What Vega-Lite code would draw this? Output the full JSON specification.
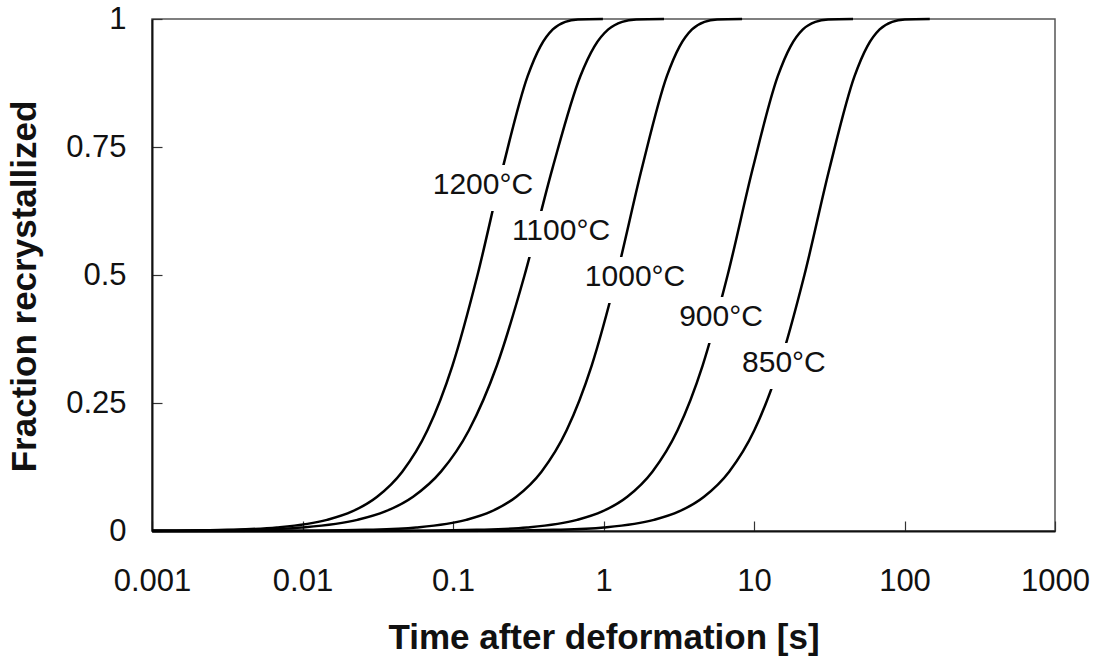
{
  "$schema": "https://vega.github.io/schema/vega-lite/v6.json",
  "width": 903,
  "height": 512,
  "autosize": "none",
  "padding": {"left": 152, "top": 19, "right": 44, "bottom": 126},
  "background": "white",
  "config": {
    "view": {"stroke": "#555", "strokeWidth": 1.5},
    "font": "Liberation Sans",
    "axis": {
      "grid": false,
      "domainColor": "#111",
      "domainWidth": 2,
      "tickColor": "#333",
      "tickWidth": 1.2,
      "tickSize": -10,
      "labelFont": "Liberation Sans",
      "labelFontSize": 31,
      "labelColor": "#111",
      "titleFont": "Liberation Sans",
      "titleFontSize": 35,
      "titleFontWeight": "bold",
      "titleColor": "#111"
    }
  },
  "datasets": {
    "curves": [
      {"temp": "1200", "t": 0.001, "f": 0.0003},
      {"temp": "1200", "t": 0.001455, "f": 0.0007},
      {"temp": "1200", "t": 0.003133, "f": 0.0022},
      {"temp": "1200", "t": 0.006761, "f": 0.0069},
      {"temp": "1200", "t": 0.01455, "f": 0.0217},
      {"temp": "1200", "t": 0.02138, "f": 0.0382},
      {"temp": "1200", "t": 0.03133, "f": 0.067},
      {"temp": "1200", "t": 0.04603, "f": 0.1159},
      {"temp": "1200", "t": 0.06761, "f": 0.1968},
      {"temp": "1200", "t": 0.09908, "f": 0.3227},
      {"temp": "1200", "t": 0.1455, "f": 0.5},
      {"temp": "1200", "t": 0.2138, "f": 0.7084},
      {"temp": "1200", "t": 0.3133, "f": 0.8883},
      {"temp": "1200", "t": 0.3802, "f": 0.9462},
      {"temp": "1200", "t": 0.4603, "f": 0.9797},
      {"temp": "1200", "t": 0.5572, "f": 0.9945},
      {"temp": "1200", "t": 0.6761, "f": 0.999},
      {"temp": "1200", "t": 0.9908, "f": 1.0},

      {"temp": "1100", "t": 0.001, "f": 0.0003},
      {"temp": "1100", "t": 0.001795, "f": 0.0007},
      {"temp": "1100", "t": 0.004207, "f": 0.0022},
      {"temp": "1100", "t": 0.009886, "f": 0.0069},
      {"temp": "1100", "t": 0.02317, "f": 0.0217},
      {"temp": "1100", "t": 0.03548, "f": 0.0382},
      {"temp": "1100", "t": 0.05433, "f": 0.067},
      {"temp": "1100", "t": 0.08318, "f": 0.1159},
      {"temp": "1100", "t": 0.1276, "f": 0.1968},
      {"temp": "1100", "t": 0.1954, "f": 0.3227},
      {"temp": "1100", "t": 0.2992, "f": 0.5},
      {"temp": "1100", "t": 0.4581, "f": 0.7084},
      {"temp": "1100", "t": 0.7015, "f": 0.8883},
      {"temp": "1100", "t": 0.869, "f": 0.9462},
      {"temp": "1100", "t": 1.076, "f": 0.9797},
      {"temp": "1100", "t": 1.33, "f": 0.9945},
      {"temp": "1100", "t": 1.648, "f": 0.999},
      {"temp": "1100", "t": 2.523, "f": 1.0},

      {"temp": "1000", "t": 0.001, "f": 0.0},
      {"temp": "1000", "t": 0.01225, "f": 0.0007},
      {"temp": "1000", "t": 0.02636, "f": 0.0022},
      {"temp": "1000", "t": 0.05689, "f": 0.0069},
      {"temp": "1000", "t": 0.1225, "f": 0.0217},
      {"temp": "1000", "t": 0.1799, "f": 0.0382},
      {"temp": "1000", "t": 0.2636, "f": 0.067},
      {"temp": "1000", "t": 0.3873, "f": 0.1159},
      {"temp": "1000", "t": 0.5689, "f": 0.1968},
      {"temp": "1000", "t": 0.8337, "f": 0.3227},
      {"temp": "1000", "t": 1.225, "f": 0.5},
      {"temp": "1000", "t": 1.799, "f": 0.7084},
      {"temp": "1000", "t": 2.636, "f": 0.8883},
      {"temp": "1000", "t": 3.199, "f": 0.9462},
      {"temp": "1000", "t": 3.873, "f": 0.9797},
      {"temp": "1000", "t": 4.688, "f": 0.9945},
      {"temp": "1000", "t": 5.689, "f": 0.999},
      {"temp": "1000", "t": 8.337, "f": 1.0},

      {"temp": "900", "t": 0.001, "f": 0.0},
      {"temp": "900", "t": 0.06683, "f": 0.0007},
      {"temp": "900", "t": 0.1439, "f": 0.0022},
      {"temp": "900", "t": 0.3105, "f": 0.0069},
      {"temp": "900", "t": 0.6683, "f": 0.0217},
      {"temp": "900", "t": 0.9817, "f": 0.0382},
      {"temp": "900", "t": 1.439, "f": 0.067},
      {"temp": "900", "t": 2.113, "f": 0.1159},
      {"temp": "900", "t": 3.105, "f": 0.1968},
      {"temp": "900", "t": 4.55, "f": 0.3227},
      {"temp": "900", "t": 6.683, "f": 0.5},
      {"temp": "900", "t": 9.817, "f": 0.7084},
      {"temp": "900", "t": 14.39, "f": 0.8883},
      {"temp": "900", "t": 17.46, "f": 0.9462},
      {"temp": "900", "t": 21.13, "f": 0.9797},
      {"temp": "900", "t": 25.59, "f": 0.9945},
      {"temp": "900", "t": 31.05, "f": 0.999},
      {"temp": "900", "t": 45.5, "f": 1.0},

      {"temp": "850", "t": 0.001, "f": 0.0},
      {"temp": "850", "t": 0.2163, "f": 0.0007},
      {"temp": "850", "t": 0.4656, "f": 0.0022},
      {"temp": "850", "t": 1.005, "f": 0.0069},
      {"temp": "850", "t": 2.163, "f": 0.0217},
      {"temp": "850", "t": 3.177, "f": 0.0382},
      {"temp": "850", "t": 4.656, "f": 0.067},
      {"temp": "850", "t": 6.839, "f": 0.1159},
      {"temp": "850", "t": 10.05, "f": 0.1968},
      {"temp": "850", "t": 14.72, "f": 0.3227},
      {"temp": "850", "t": 21.63, "f": 0.5},
      {"temp": "850", "t": 31.77, "f": 0.7084},
      {"temp": "850", "t": 46.56, "f": 0.8883},
      {"temp": "850", "t": 56.49, "f": 0.9462},
      {"temp": "850", "t": 68.39, "f": 0.9797},
      {"temp": "850", "t": 82.79, "f": 0.9945},
      {"temp": "850", "t": 100.5, "f": 0.999},
      {"temp": "850", "t": 147.2, "f": 1.0}
    ],
    "labels": [
      {"label": "1200°C", "t": 0.158, "f": 0.676},
      {"label": "1100°C", "t": 0.522, "f": 0.586},
      {"label": "1000°C", "t": 1.62, "f": 0.496},
      {"label": "900°C", "t": 6.04, "f": 0.418},
      {"label": "850°C", "t": 15.8, "f": 0.328}
    ]
  },
  "layer": [
    {
      "data": {"name": "curves"},
      "mark": {"type": "line", "color": "#000", "strokeWidth": 2.5, "interpolate": "monotone"},
      "encoding": {
        "x": {
          "field": "t",
          "type": "quantitative",
          "scale": {"type": "log", "domain": [0.001, 1000], "nice": false},
          "axis": {
            "values": [0.001, 0.01, 0.1, 1, 10, 100, 1000],
            "labelExpr": "'' + datum.value",
            "labelPadding": 45,
            "labelFlush": false,
            "title": "Time after deformation [s]",
            "titleY": 117,
            "titleBaseline": "alphabetic"
          }
        },
        "y": {
          "field": "f",
          "type": "quantitative",
          "scale": {"domain": [0, 1], "nice": false},
          "axis": {
            "values": [0, 0.25, 0.5, 0.75, 1],
            "labelExpr": "'' + datum.value",
            "labelPadding": 36,
            "labelFlush": false,
            "title": "Fraction recrystallized",
            "titleX": -117,
            "titleY": 267,
            "titleBaseline": "alphabetic"
          }
        },
        "detail": {"field": "temp", "type": "nominal"}
      }
    },
    {
      "data": {"name": "labels"},
      "mark": {"type": "rect", "color": "white", "width": 108, "height": 46, "yOffset": 3},
      "encoding": {
        "x": {"field": "t", "type": "quantitative"},
        "y": {"field": "f", "type": "quantitative"}
      }
    },
    {
      "data": {"name": "labels"},
      "mark": {"type": "text", "font": "Liberation Sans", "fontSize": 30, "color": "#111", "align": "center", "baseline": "middle"},
      "encoding": {
        "x": {"field": "t", "type": "quantitative"},
        "y": {"field": "f", "type": "quantitative"},
        "text": {"field": "label", "type": "nominal"}
      }
    }
  ]
}
